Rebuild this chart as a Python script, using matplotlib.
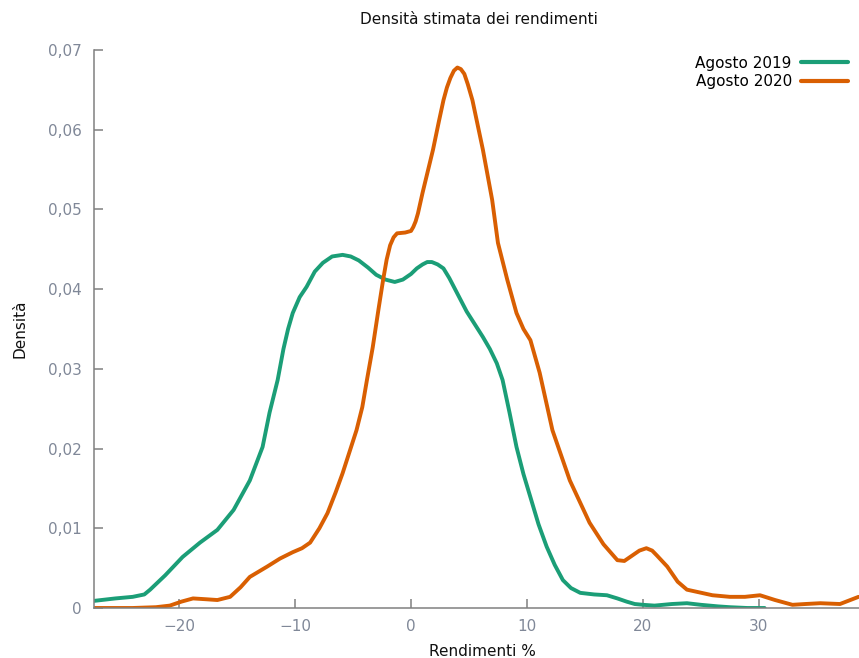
import matplotlib
matplotlib.use("Agg")
import matplotlib.pyplot as plt
from matplotlib.ticker import FuncFormatter

# Estimated densities (x = return %, y = density)
x_2019 = [-27.3, -25.5, -24.0, -23.0, -22.5, -21.2, -19.7, -18.2, -16.7, -15.3,
          -13.9, -12.8, -12.2, -11.5, -11.0, -10.6, -10.2, -9.6, -9.0, -8.3,
          -7.6, -6.8, -5.9, -5.2, -4.5, -3.7, -3.0, -2.2, -1.4, -0.7,
          0.0, 0.5, 1.0, 1.4, 1.8, 2.3, 2.8, 3.3, 3.8, 4.8,
          5.5, 6.2, 6.8, 7.4, 7.9, 8.5, 9.1, 9.7, 10.3, 11.0,
          11.7, 12.4, 13.1, 13.8, 14.6, 15.8, 16.9, 17.8, 18.6, 19.3,
          20.0, 21.0, 22.5, 23.8, 25.0, 26.5, 27.5, 29.0, 30.5]
y_2019 = [0.0009, 0.0012, 0.0014, 0.0017, 0.0023, 0.0041, 0.0064, 0.0082, 0.0098, 0.0123,
          0.0160, 0.0202, 0.0245, 0.0286, 0.0325, 0.0350, 0.0370, 0.0390, 0.0403, 0.0422,
          0.0433, 0.0441, 0.0443, 0.0441, 0.0436, 0.0427, 0.0418, 0.0412, 0.0409, 0.0412,
          0.0419, 0.0426, 0.0431, 0.0434, 0.0434, 0.0431, 0.0426, 0.0414, 0.0400, 0.0372,
          0.0356, 0.0340, 0.0325, 0.0307, 0.0286, 0.0245, 0.0202, 0.0168, 0.0139, 0.0105,
          0.0077, 0.0054, 0.0035, 0.0025, 0.0019, 0.0017, 0.0016, 0.0012, 0.0008, 0.0005,
          0.0004, 0.0003, 0.0005, 0.0006, 0.0004, 0.0002, 0.0001, 0.0000, 0.0000]

x_2020 = [-27.3, -24.0, -22.0, -20.8, -19.8, -18.8, -17.7, -16.7, -15.6, -14.7,
          -13.9, -12.4, -11.3, -10.2, -9.4, -8.7, -7.9, -7.2, -6.5, -5.9,
          -4.7, -4.2, -3.8, -3.3, -2.8, -2.4, -2.1, -1.8, -1.5, -1.2,
          -0.5, 0.0, 0.2, 0.4, 0.6, 1.0, 1.9, 2.4, 2.8, 3.1,
          3.4, 3.7, 4.0, 4.3, 4.6, 4.9, 5.3, 6.2, 7.0, 7.5,
          8.3, 9.1, 9.7, 10.3, 11.1, 12.2, 13.7, 15.4, 16.6, 17.8,
          18.4, 19.0, 19.7, 20.3, 20.8, 21.2, 22.1, 23.0, 23.8, 26.0,
          27.5, 28.8, 30.1, 31.4, 32.9, 34.0, 35.3, 37.0, 38.6]
y_2020 = [0.0000, 0.0000, 0.0001, 0.0003, 0.0008, 0.0012, 0.0011, 0.0010, 0.0014, 0.0026,
          0.0039, 0.0052, 0.0062, 0.0070, 0.0075, 0.0082, 0.0100, 0.0119, 0.0145, 0.0169,
          0.0223, 0.0252, 0.0286, 0.0327, 0.0375, 0.0412, 0.0437, 0.0455, 0.0465, 0.0470,
          0.0471, 0.0473, 0.0478, 0.0485, 0.0495, 0.0521, 0.0575, 0.0610, 0.0637, 0.0653,
          0.0665, 0.0674, 0.0678, 0.0676, 0.0670, 0.0657, 0.0637, 0.0575, 0.0512, 0.0458,
          0.0412, 0.0370, 0.0350, 0.0336, 0.0295, 0.0223, 0.0160, 0.0107, 0.0080, 0.0060,
          0.0059, 0.0065, 0.0072, 0.0075, 0.0072, 0.0066, 0.0052, 0.0033, 0.0023, 0.0016,
          0.0014, 0.0014, 0.0016, 0.0010, 0.0004, 0.0005, 0.0006, 0.0005, 0.0014]

labels = ["Agosto 2019", "Agosto 2020"]
x_ticks = [-20, -10, 0, 10, 20, 30]
y_ticks = [0, 0.01, 0.02, 0.03, 0.04, 0.05, 0.06, 0.07]

GREEN = "#1b9e77"
ORANGE = "#d95f02"
AXIS = "#808080"
TICKTXT = "#808898"

plt.rcParams["font.family"] = "DejaVu Sans"

fig = plt.figure(figsize=(8.59, 6.58), dpi=100)
ax = fig.add_axes([94 / 859, 50 / 658, 765 / 859, 558 / 658])

ax.plot(x_2019, y_2019, color=GREEN, lw=2.8, label=labels[0],
        solid_capstyle="round", solid_joinstyle="round")
ax.plot(x_2020, y_2020, color=ORANGE, lw=2.8, label=labels[1],
        solid_capstyle="round", solid_joinstyle="round")

ax.set_xlim(-27.34, 38.64)
ax.set_ylim(0, 0.07)
ax.set_xticks(x_ticks)
ax.set_yticks(y_ticks)


def _comma(v, _pos):
    if abs(v) < 1e-12:
        return "0"
    return f"{v:.2f}".replace(".", ",")


ax.yaxis.set_major_formatter(FuncFormatter(_comma))

for side in ("top", "right"):
    ax.spines[side].set_visible(False)
for side in ("left", "bottom"):
    ax.spines[side].set_color(AXIS)
    ax.spines[side].set_linewidth(1.1)

ax.tick_params(direction="in", length=6.5, width=1.1, color=AXIS,
               labelcolor=TICKTXT, labelsize=11, pad=9)
ax.tick_params(axis="x", pad=8)

leg = ax.legend(loc="upper right", bbox_to_anchor=(0.986, 0.99), frameon=False,
                markerfirst=False, fontsize=11, handlelength=3.1,
                handletextpad=0.6, labelspacing=0.25, borderpad=0, borderaxespad=0)
for line in leg.get_lines():
    line.set_linewidth(3)

fig.text(479 / 859, 1 - 20 / 658, "Densità stimata dei rendimenti",
         ha="center", va="center", fontsize=11, color="#111111")
fig.text(482 / 859, 1 - 651 / 658, "Rendimenti %",
         ha="center", va="center", fontsize=11, color="#111111")
fig.text(20 / 859, 1 - 329 / 658, "Densità", rotation=90,
         ha="center", va="center", fontsize=11, color="#111111")

fig.savefig("out.png", dpi=100)
